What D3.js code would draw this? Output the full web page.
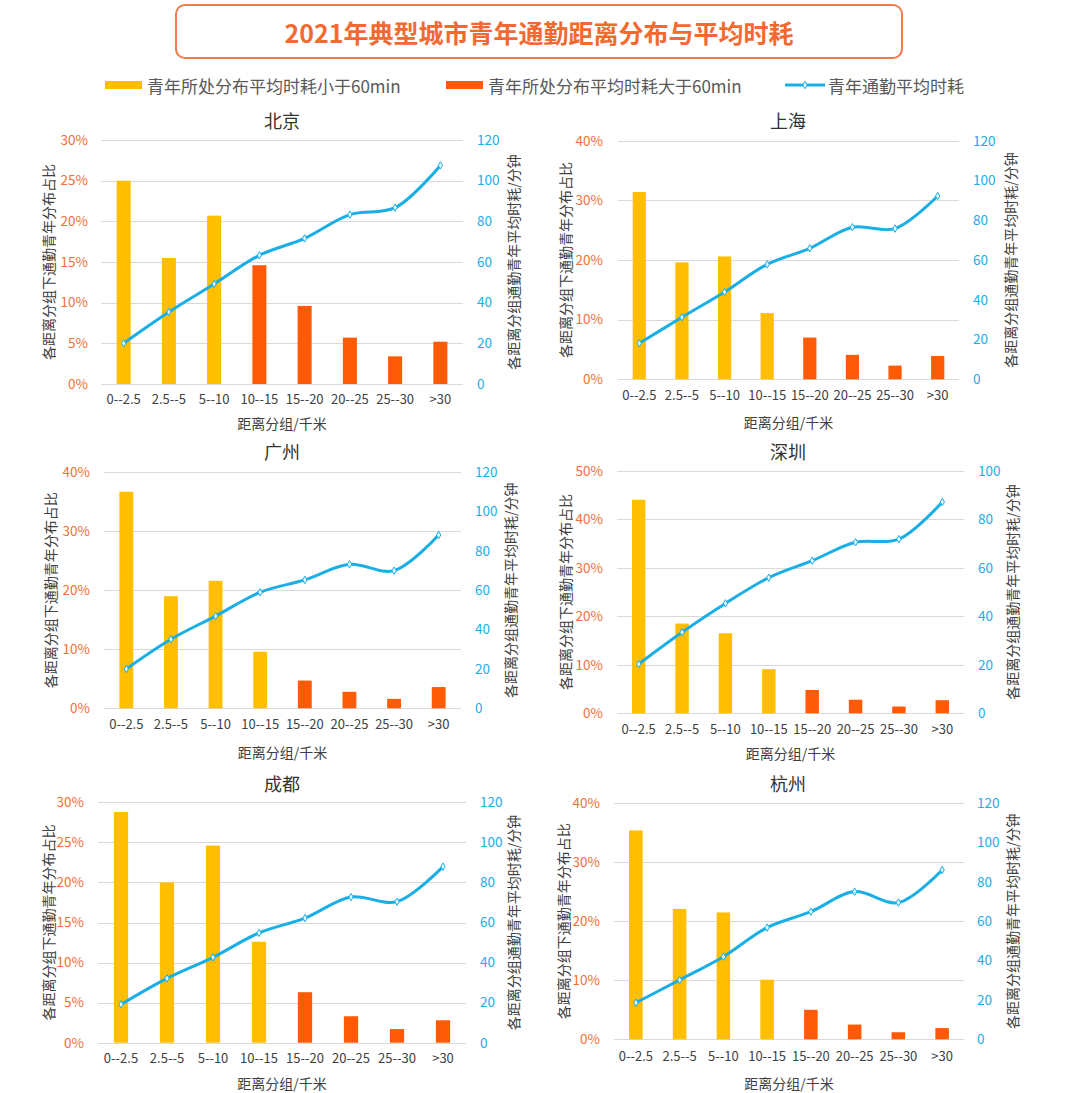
<!DOCTYPE html>
<html><head><meta charset="utf-8">
<script src="https://cdn.jsdelivr.net/npm/d3@7"></script>
<style>
html,body{margin:0;padding:0;background:#fff;}
text{font-family:"Noto Sans CJK SC","Noto Sans",sans-serif;}
</style></head>
<body>
<svg id="chart" width="1080" height="1093"></svg>
<script>
// ---------- data ----------
const title = "2021年典型城市青年通勤距离分布与平均时耗";
const legendLabels = ["青年所处分布平均时耗小于60min", "青年所处分布平均时耗大于60min", "青年通勤平均时耗"];
const categories = ["0--2.5", "2.5--5", "5--10", "10--15", "15--20", "20--25", "25--30", ">30"];
const cities = ["北京", "上海", "广州", "深圳", "成都", "杭州"];
const shareBeijing  = [25.0, 15.5, 20.7, 14.6, 9.6, 5.7, 3.4, 5.2];
const shareShanghai = [31.4, 19.6, 20.6, 11.1, 7.0, 4.1, 2.3, 3.9];
const shareGuangzhou= [36.7, 19.0, 21.6, 9.6, 4.7, 2.8, 1.6, 3.6];
const shareShenzhen = [44.0, 18.5, 16.5, 9.1, 4.8, 2.8, 1.4, 2.7];
const shareChengdu  = [28.8, 20.0, 24.6, 12.6, 6.3, 3.3, 1.7, 2.8];
const shareHangzhou = [35.4, 22.1, 21.5, 10.1, 5.0, 2.5, 1.2, 1.9];
const timeBeijing   = [20.0, 35.4, 49.2, 63.3, 71.6, 83.3, 86.7, 107.5];
const timeShanghai  = [18.1, 31.2, 43.9, 57.8, 65.9, 76.5, 75.8, 92.2];
const timeGuangzhou = [20.0, 35.1, 46.9, 59.0, 65.3, 73.2, 70.0, 88.1];
const timeShenzhen  = [20.3, 33.4, 45.3, 55.9, 62.9, 70.5, 71.8, 87.1];
const timeChengdu   = [19.1, 32.1, 42.6, 54.8, 62.2, 72.7, 70.4, 87.9];
const timeHangzhou  = [18.6, 30.2, 42.0, 56.8, 64.9, 75.1, 69.5, 86.1];
const shareSeries = [shareBeijing, shareShanghai, shareGuangzhou, shareShenzhen, shareChengdu, shareHangzhou];
const timeSeries  = [timeBeijing, timeShanghai, timeGuangzhou, timeShenzhen, timeChengdu, timeHangzhou];
const leftTicksBeijing = [0, 5, 10, 15, 20, 25, 30];
const leftTicks40 = [0, 10, 20, 30, 40];
const leftTicks50 = [0, 10, 20, 30, 40, 50];
const rightTicks120 = [0, 20, 40, 60, 80, 100, 120];
const rightTicks100 = [0, 20, 40, 60, 80, 100];
const leftTicks  = [leftTicksBeijing, leftTicks40, leftTicks40, leftTicks50, leftTicksBeijing, leftTicks40];
const rightTicks = [rightTicks120, rightTicks120, rightTicks120, rightTicks100, rightTicks120, rightTicks120];
const threshold = 60;
const xAxisTitle = "距离分组/千米";
const leftAxisTitle = "各距离分组下通勤青年分布占比";
const rightAxisTitle = "各距离分组通勤青年平均时耗/分钟";

// ---------- layout (positions only) ----------
const layout = [
  {x0:101, x1:463, yTop:140, yBot:384, lLab:88,  rLab:477, lTitle:48,  rTitle:513,  tY:120, xLab:403, xTitle:423, cx:282},
  {x0:618, x1:959, yTop:140.7, yBot:379.3, lLab:603, rLab:973, lTitle:565, rTitle:1010, tY:120, xLab:399, xTitle:422, cx:788},
  {x0:104, x1:461, yTop:472.3, yBot:708.3, lLab:90,  rLab:475, lTitle:50,  rTitle:510,  tY:451, xLab:728, xTitle:752, cx:282},
  {x0:617, x1:964, yTop:470.7, yBot:713.3, lLab:603, rLab:978, lTitle:565, rTitle:1012, tY:451, xLab:733, xTitle:753, cx:788},
  {x0:98,  x1:466, yTop:802.3, yBot:1042.7, lLab:84, rLab:480, lTitle:48,  rTitle:513,  tY:783, xLab:1062, xTitle:1083, cx:282},
  {x0:614, x1:964, yTop:803.3, yBot:1039.3, lLab:600, rLab:977, lTitle:563, rTitle:1012, tY:783, xLab:1060, xTitle:1083, cx:788}
];

const C = {
  yellow:"#FFBF00", orange:"#FF5A05", blue:"#1AAEE6",
  leftTick:"#F37039", rightTick:"#1AAEE6", grid:"#D9D9D9",
  text:"#404040", legend:"#595959", title:"#F26A31", box:"#F07A4B"
};

const svg = d3.select("#chart");
svg.append("rect").attr("width",1080).attr("height",1093).attr("fill","#fff");

// ---------- title ----------
svg.append("rect").attr("x",176).attr("y",5).attr("width",726).attr("height",53)
  .attr("rx",9).attr("fill","#fff").attr("stroke",C.box).attr("stroke-width",2);
svg.append("text").attr("x",539).attr("y",32).attr("text-anchor","middle")
  .attr("dominant-baseline","central").attr("font-size",25).attr("font-weight","bold")
  .attr("fill",C.title).text(title);

// ---------- legend ----------
const lg = svg.append("g").attr("font-size",17).attr("fill",C.legend);
lg.append("rect").attr("x",105).attr("y",81).attr("width",37).attr("height",8).attr("fill",C.yellow);
lg.append("text").attr("x",147).attr("y",85).attr("dominant-baseline","central").text(legendLabels[0]);
lg.append("rect").attr("x",446).attr("y",81).attr("width",37).attr("height",8).attr("fill",C.orange);
lg.append("text").attr("x",488).attr("y",85).attr("dominant-baseline","central").text(legendLabels[1]);
lg.append("line").attr("x1",785).attr("x2",825).attr("y1",85).attr("y2",85).attr("stroke",C.blue).attr("stroke-width",3);
lg.append("path").attr("d",d3.symbol(d3.symbolDiamond,16)()).attr("transform","translate(805,85)")
  .attr("fill","#e8f7fd").attr("stroke",C.blue).attr("stroke-width",1);
lg.append("text").attr("x",828).attr("y",85).attr("dominant-baseline","central").text(legendLabels[2]);

// ---------- panels ----------
cities.forEach((city, i) => {
  const L = layout[i];
  const shares = shareSeries[i], times = timeSeries[i];
  const lt = leftTicks[i], rt = rightTicks[i];
  const g = svg.append("g");

  const x = d3.scaleBand().domain(categories).range([L.x0, L.x1]).paddingInner(0.69).paddingOuter(0.345);
  const yL = d3.scaleLinear().domain([0, d3.max(lt)]).range([L.yBot, L.yTop]);
  const yR = d3.scaleLinear().domain([0, d3.max(rt)]).range([L.yBot, L.yTop]);

  // gridlines
  g.selectAll(".grid").data(lt).join("line")
    .attr("x1",L.x0).attr("x2",L.x1)
    .attr("y1",d=>Math.round(yL(d))+0.5).attr("y2",d=>Math.round(yL(d))+0.5)
    .attr("stroke",C.grid).attr("stroke-width",1);

  // left axis
  const la = g.append("g").attr("transform",`translate(${L.lLab},0)`)
    .call(d3.axisLeft(yL).tickValues(lt).tickFormat(d=>d+"%").tickSize(0).tickPadding(0));
  la.select(".domain").remove();
  la.selectAll("text").attr("fill",C.leftTick).attr("font-size",13.5)
    .attr("font-family",'"Noto Sans CJK SC","Noto Sans",sans-serif');

  // right axis
  const ra = g.append("g").attr("transform",`translate(${L.rLab},0)`)
    .call(d3.axisRight(yR).tickValues(rt).tickSize(0).tickPadding(0));
  ra.select(".domain").remove();
  ra.selectAll("text").attr("fill",C.rightTick).attr("font-size",13.5)
    .attr("font-family",'"Noto Sans CJK SC","Noto Sans",sans-serif');

  // bottom axis
  const ba = g.append("g").attr("transform",`translate(0,${L.xLab - 8})`)
    .call(d3.axisBottom(x).tickSize(0).tickPadding(0));
  ba.select(".domain").remove();
  ba.selectAll("text").attr("fill",C.text).attr("font-size",13)
    .attr("font-family",'"Noto Sans CJK SC","Noto Sans",sans-serif');

  // bars
  g.selectAll(".bar").data(categories).join("rect")
    .attr("x",d=>x(d)).attr("width",x.bandwidth())
    .attr("y",(d,j)=>yL(shares[j])).attr("height",(d,j)=>yL(0)-yL(shares[j]))
    .attr("fill",(d,j)=>times[j] > threshold ? C.orange : C.yellow);

  // line
  const pts = categories.map((c,j)=>[x(c)+x.bandwidth()/2, yR(times[j])]);
  g.append("path").attr("d",d3.line().curve(d3.curveCatmullRom.alpha(0.5))(pts))
    .attr("fill","none").attr("stroke",C.blue).attr("stroke-width",3);
  g.selectAll(".mk").data(pts).join("path")
    .attr("d",d3.symbol(d3.symbolDiamond,16)())
    .attr("transform",d=>`translate(${d[0]},${d[1]})`)
    .attr("fill","#e8f7fd").attr("stroke",C.blue).attr("stroke-width",1);

  // titles
  g.append("text").attr("x",L.cx).attr("y",L.tY).attr("text-anchor","middle")
    .attr("dominant-baseline","central").attr("font-size",18).attr("fill","#333").text(city);
  g.append("text").attr("x",(L.x0+L.x1)/2).attr("y",L.xTitle).attr("text-anchor","middle")
    .attr("dominant-baseline","central").attr("font-size",14).attr("fill",C.text).text(xAxisTitle);
  const midY = (L.yTop+L.yBot)/2;
  g.append("text").attr("transform",`translate(${L.lTitle},${midY}) rotate(-90)`)
    .attr("text-anchor","middle").attr("dominant-baseline","central")
    .attr("font-size",14).attr("fill",C.text).text(leftAxisTitle);
  g.append("text").attr("transform",`translate(${L.rTitle},${midY}) rotate(-90)`)
    .attr("text-anchor","middle").attr("dominant-baseline","central")
    .attr("font-size",14).attr("fill",C.text).text(rightAxisTitle);
});
</script>
</body></html>
